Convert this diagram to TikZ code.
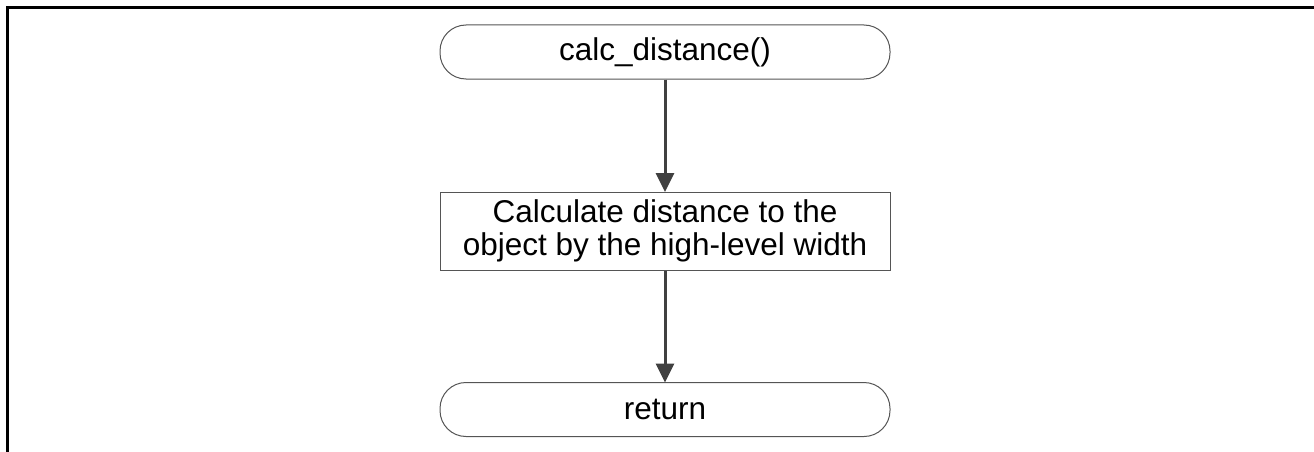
\documentclass[tikz,border=0pt]{standalone}
\usepackage{fontspec}
\setmainfont{Liberation Sans}
\usetikzlibrary{arrows.meta}
\definecolor{nodeline}{HTML}{555555}
\definecolor{arrowline}{HTML}{404040}
\tikzset{
  terminal/.style={draw=nodeline, line width=1pt, rounded corners=26pt, minimum width=450pt, minimum height=54pt, inner sep=0pt, font=\fontsize{31.5}{33}\selectfont, align=center},
  process/.style={draw=nodeline, line width=1pt, minimum width=450pt, minimum height=78pt, inner sep=0pt, font=\fontsize{31.5}{33}\selectfont, align=center},
  flow/.style={draw=arrowline, line width=3pt, -{Triangle[length=19pt,width=18pt]}, shorten >=-0.5pt},
  frame/.style={draw=black, line width=2.2pt}
}
\begin{document}
\begin{tikzpicture}[x=1pt,y=-1pt]
\useasboundingbox (0,0) rectangle (1314,452);
\coordinate (fbl) at (7.5,452);
\coordinate (ftl) at (7.5,7.5);
\coordinate (ftr) at (1314,7.5);
\draw[frame] (fbl) -- (ftl) -- (ftr);
\node[terminal] (start) at (665,52) {calc\_distance()};
\node[process] (calc) at (665,231) {Calculate distance to the\\object by the high-level width};
\node[terminal] (ret) at (665,409.5) {return};
\draw[flow] (start.south) -- (calc.north);
\draw[flow] (calc.south) -- (ret.north);
\end{tikzpicture}
\end{document}
